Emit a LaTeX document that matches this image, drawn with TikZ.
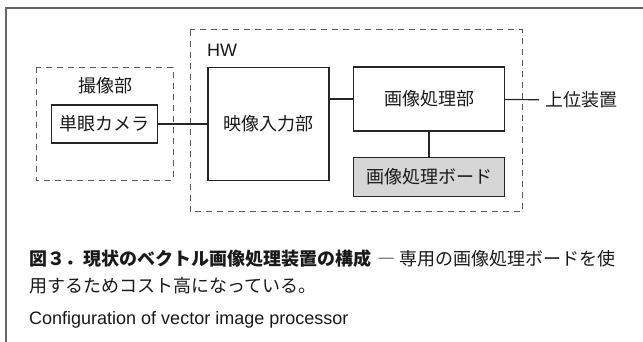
\documentclass[tikz,border=0pt]{standalone}
\usepackage{fontspec}
\setmainfont{Noto Sans CJK JP}
\newfontfamily\latinsans{Liberation Sans}
\definecolor{boardgray}{HTML}{D6D6D6}
\begin{document}
\begin{tikzpicture}[x=1pt, y=-1pt, font=\fontsize{18}{22}\selectfont, text=black!90,
    blk/.style={draw=black!85, line width=1.3pt, inner sep=0pt},
    group/.style={draw=black!65, line width=1pt, dash pattern=on 6pt off 5pt},
    wire/.style={draw=black!85, line width=1.2pt},
    captxt/.style={anchor=base west, inner sep=0pt}]
    \useasboundingbox (0,0) rectangle (643,342);
    % Draw outer frame
    \draw[black!60, line width=1.5pt] (643,8) -- (6,8) -- (6,342);
    % Draw groups
    \draw[group] (36,67.5) rectangle (173,180.5); % camera group
    \draw[group] (190,30) rectangle (522,212); % HW group
    \node (camlabel) at (105,86) {撮像部};
    \node[font=\latinsans\fontsize{18}{22}\selectfont] (hwlabel) at (222,50) {HW};
    % Draw blocks
    \node[blk, minimum width=106pt, minimum height=38pt] (camera) at (104.5,124) {単眼カメラ};
    \node[blk, minimum width=121pt, minimum height=113pt] (input) at (268.5,124) {映像入力部};
    \node[blk, minimum width=151pt, minimum height=64pt] (proc) at (429,99) {画像処理部};
    \node[blk, fill=boardgray, minimum width=151pt, minimum height=39pt] (board) at (429,177) {画像処理ボード};
    \node[anchor=west, inner xsep=6pt, inner ysep=0pt] (host) at (539,100) {上位装置};
    % Draw connections
    \draw[wire] (camera) -- (input);
    \draw[wire] (proc.west -| input.east) -- (proc);
    \draw[wire] (proc) -- (board);
    \draw[wire] (proc) -- (host);
    % Draw caption
    \node[captxt] (capA) at (29,265) {\bfseries 図３．現状のベクトル画像処理装置の構成\mdseries\hspace{6pt}―\hspace{4pt}専用の画像処理ボードを使};
    \node[captxt] (capB) at (29,292) {用するためコスト高になっている。};
    \node[captxt, font=\latinsans\fontsize{18}{22}\selectfont] (capC) at (29,324) {Configuration of vector image processor};
\end{tikzpicture}
\end{document}
